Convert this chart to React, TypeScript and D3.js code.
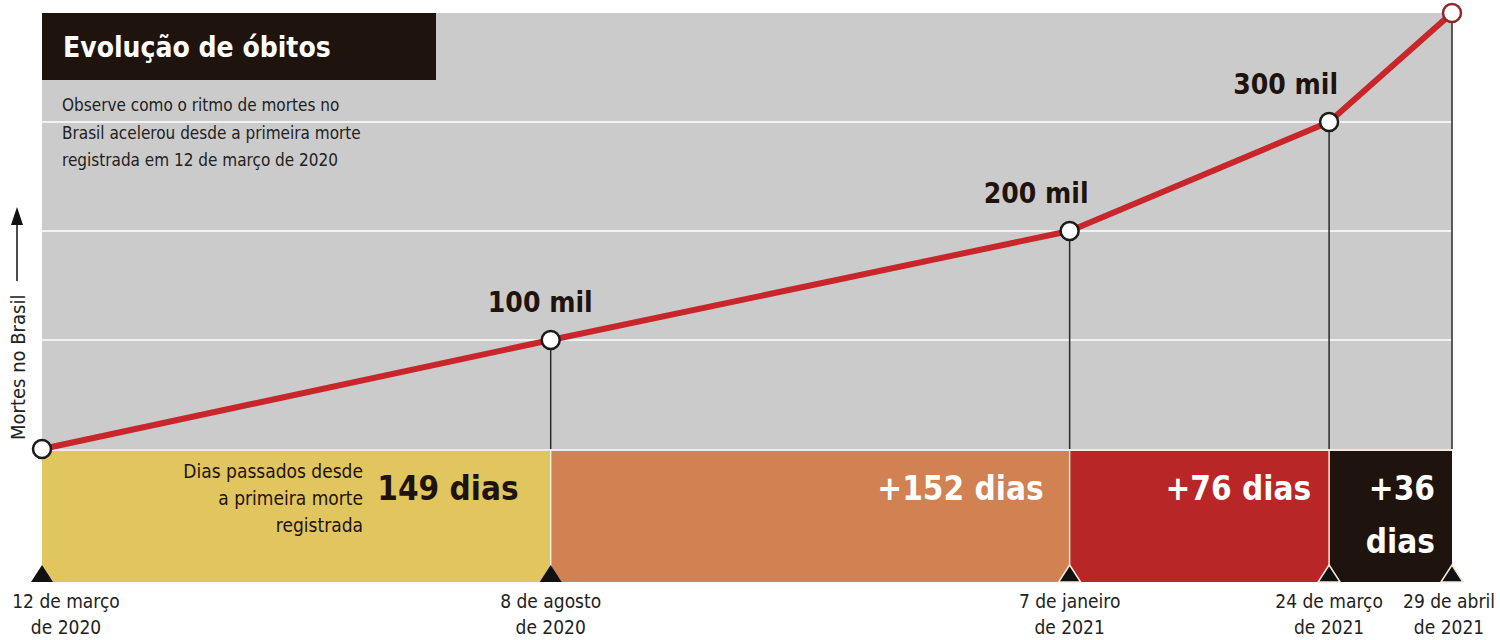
import React from 'react';
import * as d3 from 'd3';

// data
const dates = ['2020-03-12', '2020-08-08', '2021-01-07', '2021-03-24', '2021-04-29'];
const deaths = [1, 100000, 200000, 300000, 400000];
const deathLabels = ['', '100 mil', '200 mil', '300 mil', ''];
const dateLabels = [
  ['12 de março', 'de 2020'],
  ['8 de agosto', 'de 2020'],
  ['7 de janeiro', 'de 2021'],
  ['24 de março', 'de 2021'],
  ['29 de abril', 'de 2021'],
];
const periodLabels = [['149 dias'], ['+152 dias'], ['+76 dias'], ['+36', 'dias']];
const periodColors = ['#E1C65F', '#D18152', '#B82628', '#1F130D'];
const periodText = ['#1F130D', '#FFFFFF', '#FFFFFF', '#FFFFFF'];
const gridValues = [100000, 200000, 300000];

// label nudges (layout only)
const labelDx = [0, 42, 19, 9, 0];
const periodPad = [32, 26, 18, 17];
const dateDx = [24, 0, 0, 0, -3];

const FONT = '"DejaVu Sans Condensed", "Liberation Sans Narrow", "Roboto", sans-serif';

const W = 1500;
const H = 640;
const plot = {left: 42, right: 1452, top: 13, bottom: 449};
const band = {top: 451, bottom: 582};

const App = () => {
  const parse = d3.utcParse('%Y-%m-%d');
  const pts = dates.map((d, i) => ({date: parse(d) as Date, v: deaths[i]}));

  const x = d3
    .scaleUtc()
    .domain([pts[0].date, pts[pts.length - 1].date])
    .range([plot.left, plot.right]);
  const y = d3.scaleLinear().domain([0, 400000]).range([plot.bottom, plot.top]);

  const line = d3
    .line<{date: Date; v: number}>()
    .x(d => x(d.date))
    .y(d => y(d.v));

  const tri = (cx: number) =>
    `M${cx - 11},${band.bottom} L${cx},${band.bottom - 17} L${cx + 11},${band.bottom} Z`;

  return (
    <svg
      width={W}
      height={H}
      style={{position: 'absolute', left: 0, top: 0, background: '#fff'}}
      fontFamily={FONT}
    >
      {/* grey plot area */}
      <rect
        x={plot.left}
        y={plot.top}
        width={plot.right - plot.left}
        height={plot.bottom - plot.top}
        fill="#CBCBCB"
      />
      {gridValues.map(v => (
        <line
          key={v}
          x1={plot.left}
          x2={plot.right}
          y1={y(v)}
          y2={y(v)}
          stroke="#F2F2F2"
          strokeWidth={2}
        />
      ))}

      {/* title box */}
      <rect x={42} y={13} width={394} height={67} fill="#1F130D" />
      <text x={63} y={57} fill="#fff" fontSize={28} fontWeight="bold">
        Evolução de óbitos
      </text>
      {[
        'Observe como o ritmo de mortes no',
        'Brasil acelerou desde a primeira morte',
        'registrada em 12 de março de 2020',
      ].map((t, i) => (
        <text key={i} x={62} y={111 + i * 27.5} fill="#222" fontSize={17}>
          {t}
        </text>
      ))}

      {/* y axis label */}
      <text transform={`translate(25, 440) rotate(-90)`} fontSize={20} fill="#222">
        Mortes no Brasil
      </text>
      <line x1={17} x2={17} y1={281} y2={222} stroke="#111" strokeWidth={1.5} />
      <path d="M17,207 L11,225 L23,225 Z" fill="#111" />

      {/* vertical drop lines */}
      {pts.slice(1).map((p, i) => (
        <line
          key={i}
          x1={x(p.date)}
          x2={x(p.date)}
          y1={y(p.v)}
          y2={plot.bottom}
          stroke="#2a2a2a"
          strokeWidth={1.5}
        />
      ))}

      {/* period band */}
      {pts.slice(0, -1).map((p, i) => {
        const x0 = x(p.date);
        const x1 = x(pts[i + 1].date);
        return (
          <rect
            key={i}
            x={x0}
            y={band.top}
            width={x1 - x0}
            height={band.bottom - band.top}
            fill={periodColors[i]}
          />
        );
      })}
      <line
        x1={plot.left}
        x2={plot.right}
        y1={band.top - 1}
        y2={band.top - 1}
        stroke="#F3E9DC"
        strokeWidth={2}
      />
      {pts.slice(1, -1).map((p, i) => (
        <line
          key={i}
          x1={x(p.date)}
          x2={x(p.date)}
          y1={band.top}
          y2={band.bottom}
          stroke="#F3E9DC"
          strokeWidth={1.5}
        />
      ))}

      {/* period labels */}
      {pts.slice(0, -1).map((p, i) => {
        const xr = x(pts[i + 1].date) - periodPad[i];
        return (
          <text
            key={i}
            x={xr}
            textAnchor="end"
            fill={periodText[i]}
            fontSize={33}
            fontWeight="bold"
          >
            {periodLabels[i].map((t, j) => (
              <tspan key={j} x={xr} y={500 + j * 53}>
                {t}
              </tspan>
            ))}
          </text>
        );
      })}
      {['Dias passados desde', 'a primeira morte', 'registrada'].map((t, i) => (
        <text
          key={i}
          x={363}
          y={478 + i * 27}
          textAnchor="end"
          fill="#1F130D"
          fontSize={19}
        >
          {t}
        </text>
      ))}

      {/* triangles */}
      {pts.map((p, i) => (
        <path
          key={i}
          d={tri(x(p.date))}
          fill="#111"
          stroke={i >= 2 ? '#F3E9DC' : 'none'}
          strokeWidth={1.5}
        />
      ))}

      {/* date labels */}
      {pts.map((p, i) => (
        <text key={i} textAnchor="middle" fontSize={19} fill="#222">
          {dateLabels[i].map((t, j) => (
            <tspan key={j} x={x(p.date) + dateDx[i]} y={608 + j * 26}>
              {t}
            </tspan>
          ))}
        </text>
      ))}

      {/* deaths line */}
      <path
        d={line(pts) ?? ''}
        fill="none"
        stroke="#C8262A"
        strokeWidth={6}
        strokeLinejoin="round"
      />
      {pts.map((p, i) => (
        <circle
          key={i}
          cx={x(p.date)}
          cy={y(p.v)}
          r={9}
          fill="#fff"
          stroke={i === pts.length - 1 ? '#8E2A2C' : '#1a1a1a'}
          strokeWidth={2.5}
        />
      ))}
      {pts.map((p, i) =>
        deathLabels[i] ? (
          <text
            key={i}
            x={x(p.date) + labelDx[i]}
            y={y(p.v) - 28}
            textAnchor="end"
            fontSize={28}
            fontWeight="bold"
            fill="#1F130D"
          >
            {deathLabels[i]}
          </text>
        ) : null
      )}
    </svg>
  );
};

export default App;
